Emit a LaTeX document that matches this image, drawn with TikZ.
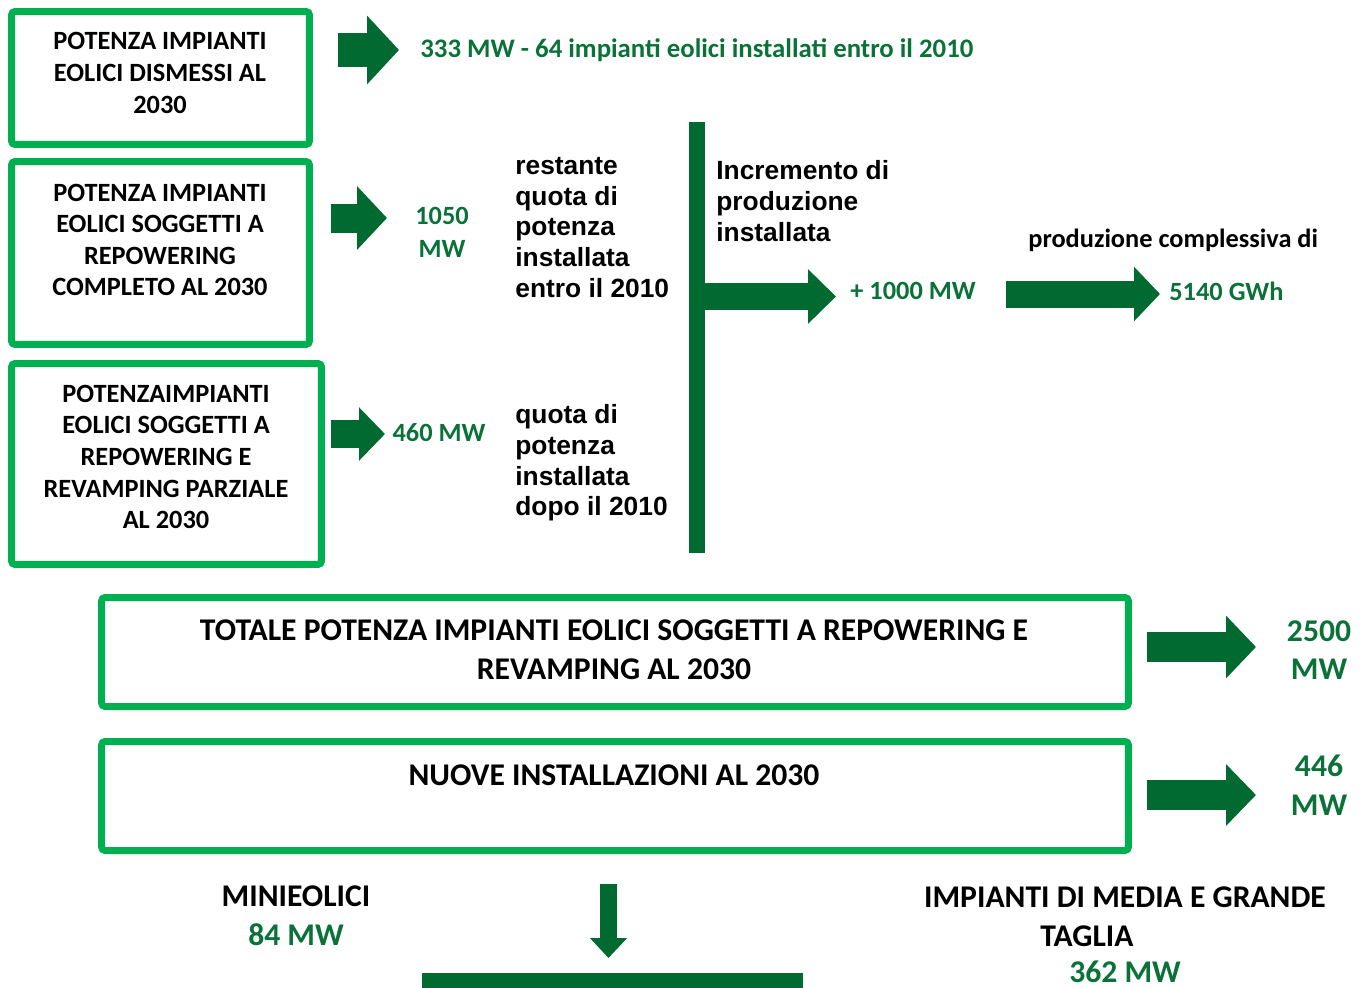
\documentclass[tikz,border=0pt]{standalone}
\usepackage{fontspec}
\setmainfont{Carlito}
\newfontfamily\arialfont{Liberation Sans}
\usetikzlibrary{arrows.meta,positioning}
\definecolor{boxgreen}{HTML}{00B050}
\definecolor{arrowgreen}{HTML}{006A31}
\definecolor{textgreen}{HTML}{0A7238}
\tikzset{
    %Define style for boxes
    riquadro/.style={
           rectangle,
           rounded corners=2pt,
           draw=boxgreen, line width=0.14cm,
           inner sep=0pt},
    titolo/.style={
           font=\bfseries\fontsize{15}{18}\selectfont,
           align=center,
           inner sep=0pt},
    titolone/.style={
           font=\bfseries\fontsize{18}{22}\selectfont,
           align=center,
           inner sep=0pt},
    valore/.style={
           text=textgreen,
           font=\bfseries\fontsize{15}{18.7}\selectfont,
           align=center,
           inner sep=0pt},
    valorone/.style={
           text=textgreen,
           font=\bfseries\fontsize{18}{22}\selectfont,
           align=center,
           inner sep=0pt},
    nota/.style={
           font=\arialfont\bfseries\fontsize{15}{17.5}\selectfont,
           align=left,
           anchor=west,
           inner sep=0pt},
    barra/.style={
           rectangle,
           fill=arrowgreen,
           inner sep=0pt},
    % Define arrow style
    freccia/.style n args={3}{
           draw=arrowgreen,
           line width=#1,
           -{Triangle[length=#3, width=#2]}}
}

\begin{document}
\begin{tikzpicture}[x=0.02cm,y=-0.02cm]
\useasboundingbox (0,0) rectangle (1364,987);
% boxes
\node[riquadro, minimum width=5.96cm, minimum height=2.66cm] (b1) at (160.5,78) {};
\node[riquadro, minimum width=5.96cm, minimum height=3.66cm] (b2) at (160.5,253) {};
\node[riquadro, minimum width=6.20cm, minimum height=4.02cm] (b3) at (166.5,464) {};
\node[riquadro, minimum width=20.54cm, minimum height=2.18cm] (b4) at (615,652) {};
\node[riquadro, minimum width=20.54cm, minimum height=2.18cm] (b5) at (615,796) {};
\node[titolo] (t1) at (160,73) {POTENZA IMPIANTI\\EOLICI DISMESSI AL\\2030};
\node[titolo] (t2) at (160,240) {POTENZA IMPIANTI\\EOLICI SOGGETTI A\\REPOWERING\\COMPLETO AL 2030};
\node[titolo] (t3) at (166,457) {POTENZAIMPIANTI\\EOLICI SOGGETTI A\\REPOWERING E\\REVAMPING PARZIALE\\AL 2030};
\node[titolone] (t4) at (614,650) {TOTALE POTENZA IMPIANTI EOLICI SOGGETTI A REPOWERING E\\REVAMPING AL 2030};
\node[titolone] (t5) at (614,775) {NUOVE INSTALLAZIONI AL 2030};
% values and notes
\node[valore, anchor=west, font=\bfseries\fontsize{15.25}{18.7}\selectfont] (v1) at (420,50) {333 MW - 64 impianti eolici installati entro il 2010};
\node[valore] (v2) at (442,232) {1050\\MW};
\node[valore] (v3) at (439,433) {460 MW};
\node[nota] (d1) at (515,227.5) {restante\\quota di\\potenza\\installata\\entro il 2010};
\node[nota] (d2) at (515,463) {quota di\\potenza\\installata\\dopo il 2010};
\node[nota] (inc) at (716,201) {Incremento di\\produzione\\installata};
\node[valore, anchor=west] (v4) at (850,291) {+ 1000 MW};
\node[titolo, anchor=west] (pc) at (1028,240) {produzione complessiva di};
\node[valore, anchor=west] (v5) at (1169,291) {5140 GWh};
\node[valorone] (v6) at (1319,650) {2500\\MW};
\node[valorone] (v7) at (1319,785) {446\\MW};
\node[titolone] (mini) at (296,896) {MINIEOLICI};
\node[valorone] (m84) at (296,935) {84 MW};
\node[titolone] (grandi) at (1125,897) {IMPIANTI DI MEDIA E GRANDE};
\node[titolone] (taglia) at (1087,936) {TAGLIA};
\node[valorone] (m362) at (1125,972) {362 MW};
% bars
\node[barra, minimum width=0.32cm, minimum height=8.62cm] (bar) at (697,337.5) {};
\node[barra, minimum width=7.62cm, minimum height=0.40cm] (base) at (612.5,983) {};
% arrow tips
\coordinate (p1) at (399,50);
\coordinate (p2) at (387,218);
\coordinate (p3) at (385,434);
\coordinate (p4) at (836,296.5);
\coordinate (p5) at (1160,294);
\coordinate (p6) at (1256,647);
\coordinate (p7) at (1256,795);
\coordinate (p8) at (608.5,958);
\draw[freccia={0.70cm}{1.34cm}{0.64cm}, shorten <=0.51cm] (b1.east |- p1) -- (p1);
\draw[freccia={0.58cm}{1.24cm}{0.60cm}, shorten <=0.37cm] (b2.east |- p2) -- (p2);
\draw[freccia={0.56cm}{1.04cm}{0.52cm}, shorten <=0.13cm] (b3.east |- p3) -- (p3);
\draw[freccia={0.54cm}{1.06cm}{0.56cm}] (bar.east |- p4) -- (p4);
\draw[freccia={0.54cm}{1.06cm}{0.52cm}, shorten <=0.60cm] (v4.east |- p5) -- (p5);
\draw[freccia={0.60cm}{1.22cm}{0.60cm}, shorten <=0.31cm] (b4.east |- p6) -- (p6);
\draw[freccia={0.60cm}{1.20cm}{0.60cm}, shorten <=0.31cm] (b5.east |- p7) -- (p7);
\draw[freccia={0.34cm}{0.72cm}{0.40cm}, shorten <=0.61cm] (b5.south -| p8) -- (p8);
\end{tikzpicture}
\end{document}
